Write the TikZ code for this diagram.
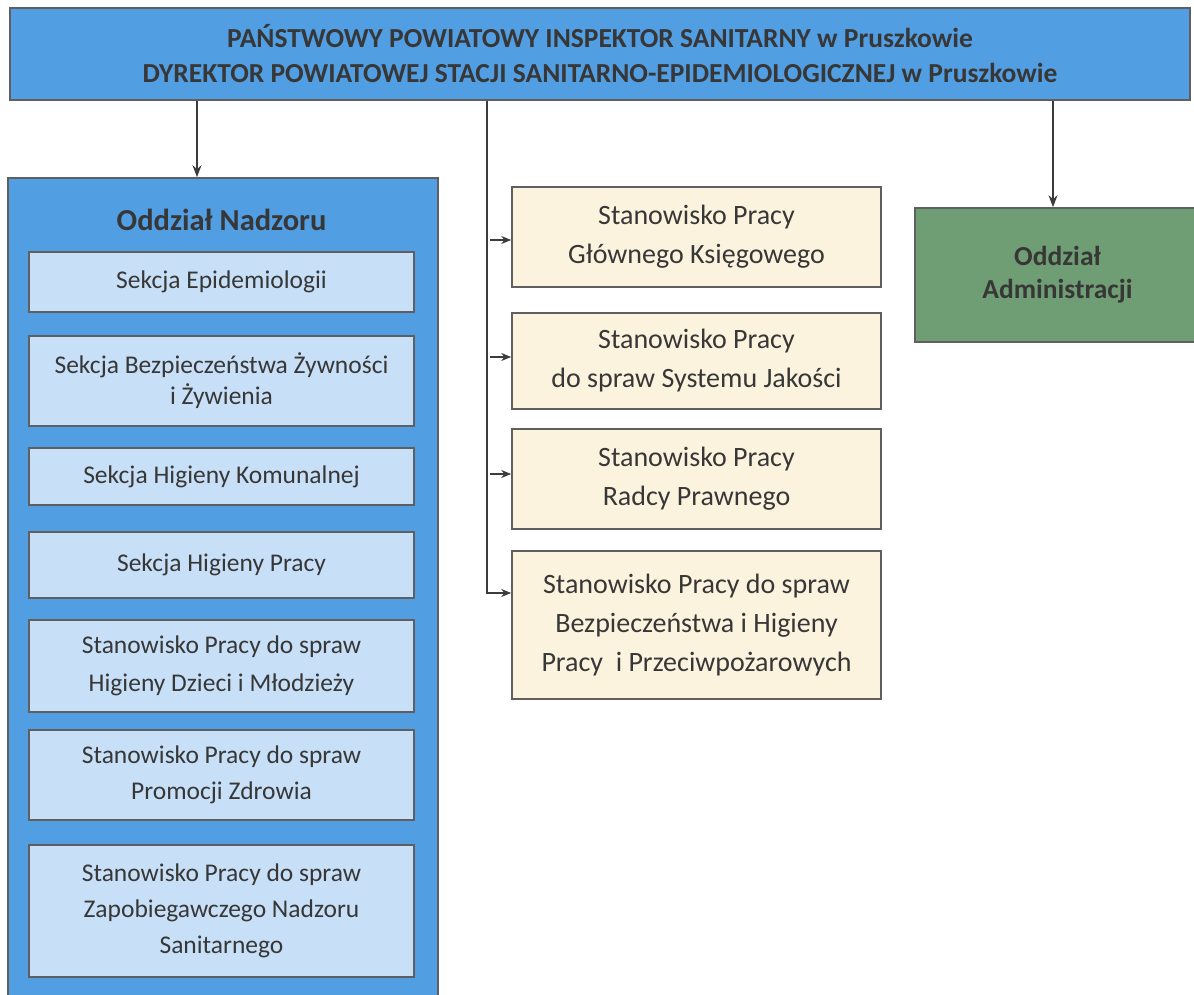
\documentclass[tikz,border=0pt]{standalone}
\usepackage{fontspec}
\setmainfont{Carlito}
\usetikzlibrary{arrows.meta,calc}
\definecolor{topblue}{RGB}{82,158,226}
\definecolor{lightblue}{RGB}{200,224,247}
\definecolor{beige}{RGB}{252,243,222}
\definecolor{green1}{RGB}{112,158,116}
\definecolor{txt}{RGB}{55,55,55}
\definecolor{edge}{RGB}{95,95,95}
\definecolor{lne}{RGB}{60,60,60}
\tikzset{
  base/.style={draw=edge, line width=1.6pt, rectangle, align=center, inner sep=0pt, text=txt},
  topbox/.style={base, fill=topblue, font=\fontsize{27.5}{35}\selectfont\bfseries},
  bigbox/.style={base, fill=topblue},
  secbox/.style={base, fill=lightblue, minimum width=385pt, font=\fontsize{25.5}{36}\selectfont},
  posbox/.style={base, fill=beige, minimum width=369pt, font=\fontsize{28}{39}\selectfont},
  adminbox/.style={base, fill=green1, font=\fontsize{27.5}{33}\selectfont\bfseries},
  conn/.style={draw=lne, line width=1.4pt},
  arr/.style={conn, -{Stealth[length=12pt,width=9pt]}},
  sarr/.style={conn, -{Stealth[length=10pt,width=8pt]}},
}
\begin{document}
\begin{tikzpicture}[x=1pt,y=-1pt]
\useasboundingbox (0,0) rectangle (1194,995);
\fill[white] (0,0) rectangle (1194,995);
\begin{scope}
\clip (0,0) rectangle (1194,995);
\node[topbox, minimum width=1180pt, minimum height=92pt] (top) at (600,54)
  {PAŃSTWOWY POWIATOWY INSPEKTOR SANITARNY w Pruszkowie\\DYREKTOR POWIATOWEJ STACJI SANITARNO-EPIDEMIOLOGICZNEJ w Pruszkowie};
\node[bigbox, minimum width=430pt, minimum height=830pt] (nadzor) at (223,593) {};
\node[font=\fontsize{30.5}{34}\selectfont\bfseries, text=txt] (nadzort) at (221.5,220) {Oddział Nadzoru};
\node[secbox, minimum height=60pt] (e1) at (221.5,282) {Sekcja Epidemiologii};
\node[secbox, minimum height=90pt, font=\fontsize{25.5}{31}\selectfont] (e2) at (221.5,381) {Sekcja Bezpieczeństwa Żywności\\i Żywienia};
\node[secbox, minimum height=57pt] (e3) at (221.5,476.5) {Sekcja Higieny Komunalnej};
\node[secbox, minimum height=66pt] (e4) at (221.5,565) {Sekcja Higieny Pracy};
\node[secbox, minimum height=92pt, font=\fontsize{25.5}{38}\selectfont] (e5) at (221.5,666) {Stanowisko Pracy do spraw\\Higieny Dzieci i Młodzieży};
\node[secbox, minimum height=90pt] (e6) at (221.5,775) {Stanowisko Pracy do spraw\\Promocji Zdrowia};
\node[secbox, minimum height=132pt] (e7) at (221.5,911) {Stanowisko Pracy do spraw\\Zapobiegawczego Nadzoru\\Sanitarnego};
\node[posbox, minimum height=100pt] (m1) at (696.5,237) {Stanowisko Pracy\\Głównego Księgowego};
\node[posbox, minimum height=96pt] (m2) at (696.5,361) {Stanowisko Pracy\\do spraw Systemu Jakości};
\node[posbox, minimum height=100pt] (m3) at (696.5,479) {Stanowisko Pracy\\Radcy Prawnego};
\node[posbox, minimum height=148pt] (m4) at (696.5,625) {Stanowisko Pracy do spraw\\Bezpieczeństwa i Higieny\\Pracy\ \ i Przeciwpożarowych};
\node[adminbox, minimum width=285pt, minimum height=134pt] (admin) at (1057.5,275) {Oddział\\Administracji};
\coordinate (xl) at (197,0);
\coordinate (xm) at (487,0);
\coordinate (xr) at (1053,0);
\coordinate (y1) at (0,240);
\coordinate (y2) at (0,357);
\coordinate (y3) at (0,474);
\coordinate (y4) at (0,593);
\draw[arr] (top.south -| xl) -- (nadzor.north -| xl);
\draw[arr] (top.south -| xr) -- (admin.north -| xr);
\draw[sarr] (top.south -| xm) -- (xm |- y4) -- (m4.west |- y4);
\draw[sarr] ($(xm |- y1)+(3,0)$) -- (m1.west |- y1);
\draw[sarr] ($(xm |- y2)+(3,0)$) -- (m2.west |- y2);
\draw[sarr] ($(xm |- y3)+(3,0)$) -- (m3.west |- y3);
\end{scope}
\end{tikzpicture}
\end{document}
